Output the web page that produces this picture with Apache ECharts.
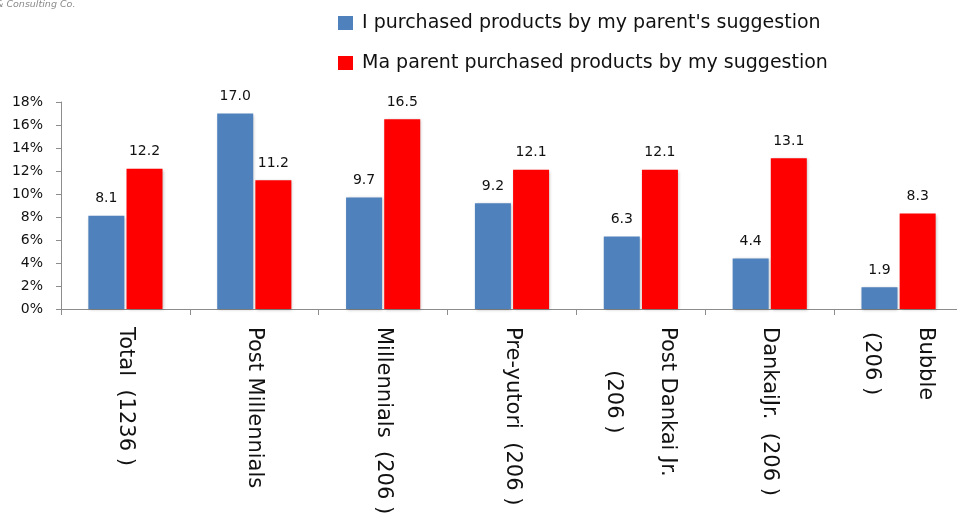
<!DOCTYPE html>
<html>
<head>
<meta charset="utf-8">
<script src="https://cdn.jsdelivr.net/npm/echarts@6/dist/echarts.min.js"></script>
<style>html,body{margin:0;padding:0;background:#fff;}#main{width:957px;height:514px;}</style>
</head>
<body>
<div id="main"></div>
<script>
var categories = ['Total  (1236 )', 'Post Millennials', 'Millennials  (206 )', 'Pre-yutori  (206 )', 'Post Dankai Jr.\n(206 )', 'DankaiJr.  (206 )', 'Bubble\n(206 )'];
var seriesNames = ["I purchased products by my parent's suggestion", 'Ma parent purchased products by my suggestion'];
var childByParent = [8.1, 17.0, 9.7, 9.2, 6.3, 4.4, 1.9];
var parentByChild = [12.2, 11.2, 16.5, 12.1, 12.1, 13.1, 8.3];
var yTicks = { min: 0, max: 18, interval: 2 };

var chart = echarts.init(document.getElementById('main'));
var barShadow = { shadowColor: 'rgba(0,0,0,0.25)', shadowBlur: 3, shadowOffsetX: 1, shadowOffsetY: 1 };
var font = 'DejaVu Sans';
chart.setOption({
  backgroundColor: '#fff',
  animation: false,
  textStyle: { fontFamily: font },
  graphic: [{
    type: 'text', left: -4, top: 0,
    style: { text: '& Consulting Co.', font: 'italic 9.5px "DejaVu Sans"', fill: '#8a8a8a' }
  }],
  legend: {
    orient: 'vertical', left: 333, top: 7,
    itemWidth: 15, itemHeight: 14, itemGap: 18,
    icon: 'rect',
    textStyle: { fontFamily: font, fontSize: 19, color: '#111', lineHeight: 22, padding: [0, 0, 0, 4] },
    data: seriesNames
  },
  grid: { left: 61, width: 902, top: 102, bottom: 205, containLabel: false, outerBoundsMode: 'none' },
  xAxis: {
    type: 'category', data: categories,
    axisLine: { lineStyle: { color: '#8c8c8c', width: 1 } },
    axisTick: { show: true, length: 6, lineStyle: { color: '#8c8c8c' } },
    axisLabel: {
      rotate: -90, margin: 18, interval: 0, color: '#111', fontFamily: font, fontSize: 21,
      formatter: function (v) { return v.split('\n').map(function (l) { return '{c|' + l + '}'; }).join('\n'); },
      rich: { c: { align: 'center', fontSize: 21, fontFamily: font, color: '#111', lineHeight: 54 } }
    }
  },
  yAxis: {
    type: 'value', min: yTicks.min, max: yTicks.max, interval: yTicks.interval,
    axisLine: { show: true, lineStyle: { color: '#8c8c8c' } },
    axisTick: { show: true, length: 5, lineStyle: { color: '#8c8c8c' } },
    splitLine: { show: false },
    axisLabel: { formatter: '{value}%', fontSize: 14, color: '#111', margin: 18, fontFamily: font }
  },
  series: [{
    name: seriesNames[0], type: 'bar', data: childByParent, barWidth: 36, barGap: '6%',
    itemStyle: Object.assign({ color: '#4F81BD' }, barShadow),
    label: { show: true, position: 'top', distance: 10, fontSize: 14, color: '#111', fontFamily: font, formatter: function (p) { return p.value.toFixed(1); } }
  }, {
    name: seriesNames[1], type: 'bar', data: parentByChild, barWidth: 36,
    itemStyle: Object.assign({ color: '#FF0000' }, barShadow),
    label: { show: true, position: 'top', distance: 10, fontSize: 14, color: '#111', fontFamily: font, formatter: function (p) { return p.value.toFixed(1); } }
  }]
});
</script>
</body>
</html>
